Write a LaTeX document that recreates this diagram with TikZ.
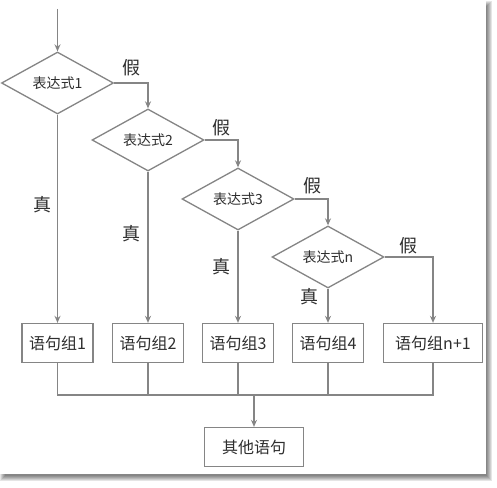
\documentclass[tikz,border=0pt]{standalone}
\usepackage{fontspec}
\setmainfont{Noto Sans CJK SC}
\usetikzlibrary{shapes.geometric,arrows.meta}
\definecolor{linegray}{HTML}{858585}
\definecolor{textgray}{HTML}{2E2E2E}
\begin{document}
\begin{tikzpicture}[x=1pt,y=-1pt,
  cond/.style={diamond,draw=linegray,line width=1.3pt,aspect=1.8,inner sep=0pt,
    minimum width=112pt,minimum height=62pt,text=textgray,font=\fontsize{14}{14}\selectfont},
  block/.style={rectangle,draw=linegray,line width=1.3pt,minimum width=71pt,minimum height=39pt,
    inner sep=0pt,text=textgray,font=\fontsize{16}{16}\selectfont},
  flow/.style={draw=linegray,line width=1.3pt,-{Stealth[length=7pt,width=6pt]}},
  wire/.style={draw=linegray,line width=1.3pt},
  lbl/.style={text=textgray,font=\fontsize{18}{18}\selectfont}]
  \useasboundingbox (0,0) rectangle (497,487);
  % Card with shadow
  \foreach \d in {0,1,...,5}
    \fill[black,opacity=0.1] (\d,\d+1) rectangle (492-\d,481-\d);
  \fill[white] (0,0) rectangle (486,474);
  % Conditions
  \node[cond] (d1) at (57.5,83) {表达式1};
  \node[cond] (d2) at (148,140) {表达式2};
  \node[cond] (d3) at (238,199) {表达式3};
  \node[cond] (dn) at (328,257) {表达式n};
  % Statement groups
  \node[block] (b1) at (57.5,343) {语句组1};
  \node[block] (b2) at (148,343) {语句组2};
  \node[block] (b3) at (238,343) {语句组3};
  \node[block] (b4) at (328,343) {语句组4};
  \node[block,minimum width=99pt] (bn) at (433,343) {语句组n+1};
  \node[block,minimum width=99pt] (other) at (254,447) {其他语句};
  % Flow
  \coordinate (start) at (57.5,9);
  \coordinate (join) at (254,395);
  \draw[flow] (start) -- (d1.north);
  \draw[flow] (d1.east) -| (d2.north);
  \draw[flow] (d2.east) -| (d3.north);
  \draw[flow] (d3.east) -| (dn.north);
  \draw[flow] (dn.east) -| (bn.north);
  \draw[flow] (d1.south) -- (b1.north);
  \draw[flow] (d2.south) -- (b2.north);
  \draw[flow] (d3.south) -- (b3.north);
  \draw[flow] (dn.south) -- (b4.north);
  % Merge
  \draw[wire] (b1.south) |- (join);
  \draw[wire] (bn.south) |- (join);
  \draw[wire] (b2.south) -- (b2.south |- join);
  \draw[wire] (b3.south) -- (b3.south |- join);
  \draw[wire] (b4.south) -- (b4.south |- join);
  \draw[flow] (join) -- (other.north);
  % Labels
  \node[lbl] (f1) at (131,68) {假};
  \node[lbl] (f2) at (221,128) {假};
  \node[lbl] (f3) at (312,186) {假};
  \node[lbl] (f4) at (408,246) {假};
  \node[lbl] (t1) at (42,205) {真};
  \node[lbl] (t2) at (131,234) {真};
  \node[lbl] (t3) at (221,267) {真};
  \node[lbl] (t4) at (309,297) {真};
\end{tikzpicture}
\end{document}
